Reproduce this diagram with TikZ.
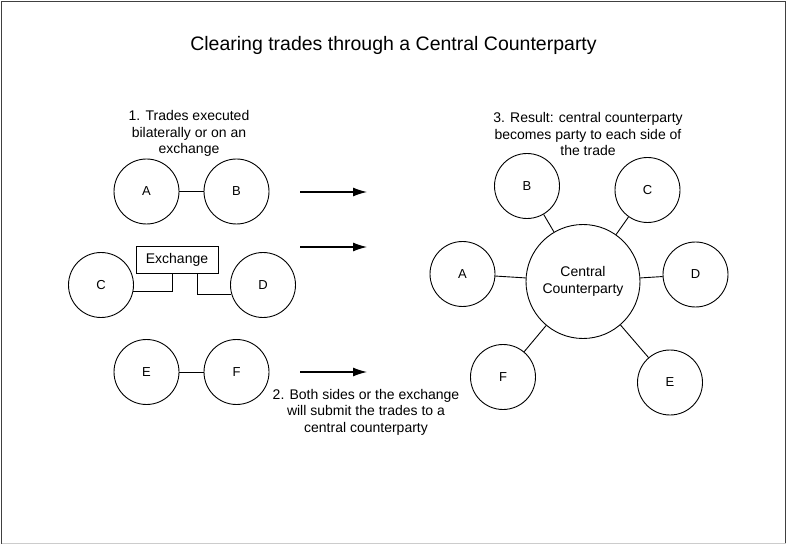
\documentclass[tikz,border=0pt]{standalone}
\usepackage{fontspec}
\setmainfont{Liberation Sans}
\usetikzlibrary{arrows.meta}
\begin{document}
\begin{tikzpicture}[x=1pt,y=-1pt,
  party/.style={draw, circle, line width=0.9pt, minimum size=65pt, inner sep=0pt, font=\fontsize{13}{15}\selectfont},
  ccp/.style={draw, circle, line width=0.9pt, minimum size=114pt, inner sep=0pt, align=center, font=\fontsize{14}{17}\selectfont},
  exbox/.style={draw, rectangle, line width=0.9pt, minimum width=82pt, minimum height=27pt, inner sep=0pt, font=\fontsize{14}{16}\selectfont},
  note/.style={align=center, inner sep=0pt, font=\fontsize{14}{16.5}\selectfont},
  link/.style={line width=0.9pt},
  flow/.style={line width=1.2pt, -{Latex[length=14pt,width=9pt]}}]
\useasboundingbox (0,0) rectangle (787,545);
\draw[line width=1.2pt, black!75] (1.5,543.5) -- (1.5,1.5) -- (785.5,1.5) -- (785.5,543.5);
\draw[line width=1pt, black!20] (1.5,543.5) -- (785.5,543.5);
\node (title) at (393.5,45) {\fontsize{19.5}{22}\selectfont Clearing trades through a Central Counterparty};
% notes
\node[note] (n1) at (189,133.5) {1. Trades executed\\bilaterally or on an\\exchange};
\node[note] (n2) at (366,412) {2. Both sides or the exchange\\will submit the trades to a\\central counterparty};
\node[note] (n3) at (588,134) {3. Result: central counterparty\\becomes party to each side of\\the trade};
% left side
\node[party] (lA) at (146.5,191.5) {A};
\node[party] (lB) at (236.5,191.5) {B};
\draw[link] (lA) -- (lB);
\node[party] (lC) at (101,285) {C};
\node[party] (lD) at (263,285) {D};
\node[exbox] (ex) at (177,259.5) {Exchange};
\draw[link] (lC.-12) -| ([xshift=-5pt]ex.south);
\draw[link] ([xshift=20pt]ex.south) |- (lD.196);
\node[party] (lE) at (146.5,372) {E};
\node[party] (lF) at (236.5,372) {F};
\draw[link] (lE) -- (lF);
% arrows
\coordinate (a1s) at (300,192); \coordinate (a1e) at (367,192);
\coordinate (a2s) at (300,247); \coordinate (a2e) at (367,247);
\coordinate (a3s) at (300,372); \coordinate (a3e) at (367,372);
\draw[flow] (a1s) -- (a1e);
\draw[flow] (a2s) -- (a2e);
\draw[flow] (a3s) -- (a3e);
% right side
\node[ccp] (cc) at (583,281.5) {Central\\Counterparty};
\node[party] (rA) at (462.5,274) {A};
\node[party] (rB) at (527,186) {B};
\node[party] (rC) at (647.5,190) {C};
\node[party] (rD) at (695.5,274.5) {D};
\node[party] (rE) at (670,382.5) {E};
\node[party] (rF) at (503,377) {F};
\foreach \p in {rA,rB,rC,rD,rE,rF} \draw[link] (cc) -- (\p);
\end{tikzpicture}
\end{document}
